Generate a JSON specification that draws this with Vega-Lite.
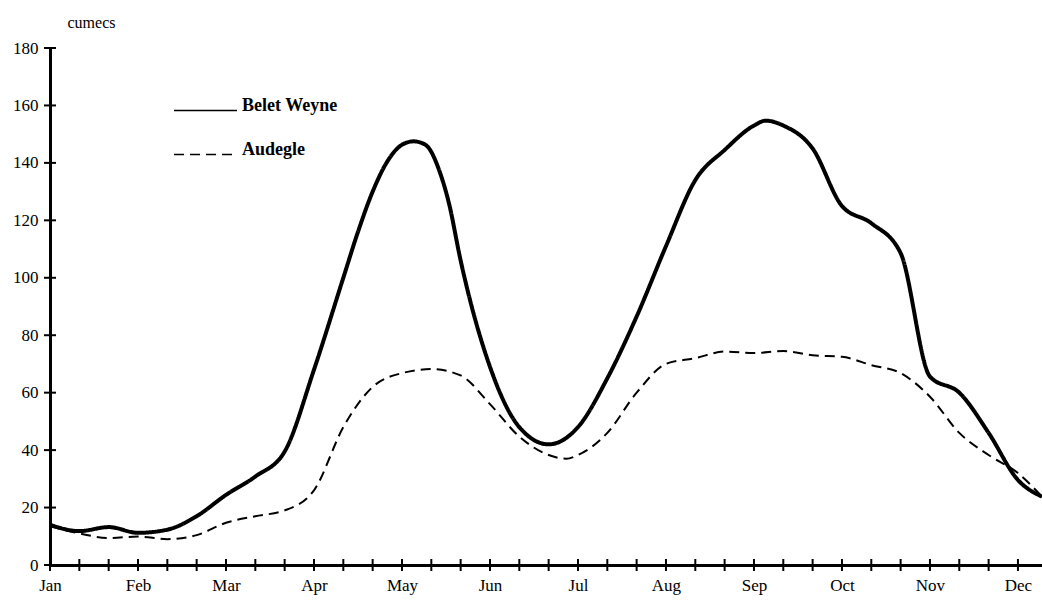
{
  "$schema": "https://vega.github.io/schema/vega-lite/v6.json",
  "width": 992,
  "height": 517,
  "autosize": {"type": "none"},
  "padding": {"left": 50, "top": 48, "right": 0, "bottom": 36},
  "background": "white",
  "config": {
    "view": {"stroke": null},
    "font": "Liberation Serif",
    "axis": {"grid": false, "ticks": false, "domainColor": "black", "domainWidth": 3, "labelColor": "black", "labelFont": "Liberation Serif", "labelFontSize": 17, "titleFont": "Liberation Serif"}
  },
  "datasets": {
    "flow": [
      {"d": 0, "station": "Belet Weyne", "q": 14},
      {"d": 1, "station": "Belet Weyne", "q": 11.8},
      {"d": 2, "station": "Belet Weyne", "q": 13.2},
      {"d": 3, "station": "Belet Weyne", "q": 11.2},
      {"d": 4, "station": "Belet Weyne", "q": 12.3},
      {"d": 5, "station": "Belet Weyne", "q": 17},
      {"d": 6, "station": "Belet Weyne", "q": 24.4},
      {"d": 7, "station": "Belet Weyne", "q": 30.8},
      {"d": 8, "station": "Belet Weyne", "q": 39.5},
      {"d": 9, "station": "Belet Weyne", "q": 68},
      {"d": 10, "station": "Belet Weyne", "q": 100},
      {"d": 10.5, "station": "Belet Weyne", "q": 116},
      {"d": 11, "station": "Belet Weyne", "q": 130},
      {"d": 11.5, "station": "Belet Weyne", "q": 140.5},
      {"d": 12, "station": "Belet Weyne", "q": 146.3},
      {"d": 12.4, "station": "Belet Weyne", "q": 147.5},
      {"d": 12.8, "station": "Belet Weyne", "q": 146.3},
      {"d": 13.3, "station": "Belet Weyne", "q": 136.5},
      {"d": 13.6, "station": "Belet Weyne", "q": 126},
      {"d": 14, "station": "Belet Weyne", "q": 106},
      {"d": 15, "station": "Belet Weyne", "q": 69},
      {"d": 16, "station": "Belet Weyne", "q": 48},
      {"d": 17, "station": "Belet Weyne", "q": 42},
      {"d": 18, "station": "Belet Weyne", "q": 48},
      {"d": 19, "station": "Belet Weyne", "q": 65},
      {"d": 20, "station": "Belet Weyne", "q": 86.5},
      {"d": 21, "station": "Belet Weyne", "q": 111},
      {"d": 22, "station": "Belet Weyne", "q": 134},
      {"d": 23, "station": "Belet Weyne", "q": 144.5},
      {"d": 24, "station": "Belet Weyne", "q": 153},
      {"d": 24.4, "station": "Belet Weyne", "q": 154.7},
      {"d": 25, "station": "Belet Weyne", "q": 153},
      {"d": 26, "station": "Belet Weyne", "q": 145},
      {"d": 27, "station": "Belet Weyne", "q": 125},
      {"d": 28, "station": "Belet Weyne", "q": 119},
      {"d": 29, "station": "Belet Weyne", "q": 108.6},
      {"d": 30, "station": "Belet Weyne", "q": 65.6},
      {"d": 31, "station": "Belet Weyne", "q": 60},
      {"d": 32, "station": "Belet Weyne", "q": 46},
      {"d": 33, "station": "Belet Weyne", "q": 29.6},
      {"d": 33.82, "station": "Belet Weyne", "q": 23.8},
      {"d": 0, "station": "Audegle", "q": 13.5},
      {"d": 1, "station": "Audegle", "q": 11},
      {"d": 2, "station": "Audegle", "q": 9.4},
      {"d": 3, "station": "Audegle", "q": 9.9},
      {"d": 4, "station": "Audegle", "q": 9},
      {"d": 5, "station": "Audegle", "q": 10.4},
      {"d": 6, "station": "Audegle", "q": 14.7},
      {"d": 7, "station": "Audegle", "q": 17},
      {"d": 8, "station": "Audegle", "q": 19},
      {"d": 9, "station": "Audegle", "q": 26},
      {"d": 10, "station": "Audegle", "q": 48},
      {"d": 11, "station": "Audegle", "q": 62},
      {"d": 12, "station": "Audegle", "q": 66.8},
      {"d": 13, "station": "Audegle", "q": 68.2},
      {"d": 14, "station": "Audegle", "q": 66},
      {"d": 15, "station": "Audegle", "q": 56},
      {"d": 16, "station": "Audegle", "q": 44.7},
      {"d": 17, "station": "Audegle", "q": 38.3},
      {"d": 17.6, "station": "Audegle", "q": 37},
      {"d": 18, "station": "Audegle", "q": 38.3},
      {"d": 19, "station": "Audegle", "q": 46},
      {"d": 20, "station": "Audegle", "q": 60},
      {"d": 21, "station": "Audegle", "q": 70},
      {"d": 22, "station": "Audegle", "q": 72},
      {"d": 23, "station": "Audegle", "q": 74.3},
      {"d": 24, "station": "Audegle", "q": 73.8},
      {"d": 25, "station": "Audegle", "q": 74.5},
      {"d": 26, "station": "Audegle", "q": 73},
      {"d": 27, "station": "Audegle", "q": 72.5},
      {"d": 28, "station": "Audegle", "q": 69.6},
      {"d": 29, "station": "Audegle", "q": 66.8},
      {"d": 30, "station": "Audegle", "q": 58.6},
      {"d": 31, "station": "Audegle", "q": 46},
      {"d": 32, "station": "Audegle", "q": 38.3},
      {"d": 33, "station": "Audegle", "q": 32},
      {"d": 33.82, "station": "Audegle", "q": 23.8}
    ],
    "xticks": [
      {"d": 0}, {"d": 1}, {"d": 2}, {"d": 3}, {"d": 4}, {"d": 5}, {"d": 6}, {"d": 7}, {"d": 8}, {"d": 9},
      {"d": 10}, {"d": 11}, {"d": 12}, {"d": 13}, {"d": 14}, {"d": 15}, {"d": 16}, {"d": 17}, {"d": 18}, {"d": 19},
      {"d": 20}, {"d": 21}, {"d": 22}, {"d": 23}, {"d": 24}, {"d": 25}, {"d": 26}, {"d": 27}, {"d": 28}, {"d": 29},
      {"d": 30}, {"d": 31}, {"d": 32}, {"d": 33}
    ],
    "yticks": [
      {"q": 0}, {"q": 20}, {"q": 40}, {"q": 60}, {"q": 80}, {"q": 100}, {"q": 120}, {"q": 140}, {"q": 160}, {"q": 180}
    ]
  },
  "layer": [
    {
      "data": {"name": "flow"},
      "transform": [{"filter": "datum.station === 'Belet Weyne'"}],
      "mark": {"type": "line", "interpolate": "monotone", "strokeWidth": 4, "color": "black", "clip": true},
      "encoding": {
        "x": {
          "field": "d", "type": "quantitative",
          "scale": {"domain": [0, 33.82], "nice": false, "zero": false},
          "axis": {
            "title": null,
            "values": [0, 3, 6, 9, 12, 15, 18, 21, 24, 27, 30, 33],
            "labelExpr": "['Jan','Feb','Mar','Apr','May','Jun','Jul','Aug','Sep','Oct','Nov','Dec'][round(datum.value/3)]",
            "labelPadding": 12,
            "labelFlush": false,
            "labelOverlap": false
          }
        },
        "y": {
          "field": "q", "type": "quantitative",
          "scale": {"domain": [0, 180], "nice": false},
          "axis": {
            "title": "cumecs",
            "values": [0, 20, 40, 60, 80, 100, 120, 140, 160, 180],
            "labelPadding": 12,
            "titleAngle": 0,
            "titleAlign": "left",
            "titleBaseline": "middle",
            "titleX": 17,
            "titleY": -26,
            "titleFontSize": 16,
            "titleFontWeight": "normal",
            "titleColor": "black"
          }
        },
        "strokeDash": {
          "field": "station", "type": "nominal",
          "scale": {"domain": ["Belet Weyne", "Audegle"], "range": [[1, 0], [10, 6]]},
          "legend": {
            "title": null,
            "orient": "none",
            "legendX": 123,
            "legendY": 51,
            "padding": 0,
            "symbolType": "M-1,0H5",
            "symbolSize": 441,
            "symbolStrokeWidth": 1.5,
            "symbolStrokeColor": "black",
            "labelFont": "Liberation Serif",
            "labelFontWeight": "bold",
            "labelFontSize": 18,
            "labelColor": "black",
            "labelBaseline": "alphabetic",
            "labelOffset": 46,
            "rowPadding": 25
          }
        }
      }
    },
    {
      "data": {"name": "flow"},
      "transform": [{"filter": "datum.station === 'Audegle'"}],
      "mark": {"type": "line", "interpolate": "monotone", "strokeWidth": 2, "color": "black", "clip": true},
      "encoding": {
        "x": {"field": "d", "type": "quantitative"},
        "y": {"field": "q", "type": "quantitative"},
        "strokeDash": {"field": "station", "type": "nominal"}
      }
    },
    {
      "data": {"name": "xticks"},
      "mark": {"type": "tick", "orient": "vertical", "size": 12, "thickness": 2, "color": "black", "opacity": 1},
      "encoding": {
        "x": {"field": "d", "type": "quantitative"},
        "y": {"datum": 0, "type": "quantitative"}
      }
    },
    {
      "data": {"name": "yticks"},
      "mark": {"type": "tick", "orient": "horizontal", "size": 12, "thickness": 2, "color": "black", "opacity": 1},
      "encoding": {
        "y": {"field": "q", "type": "quantitative"},
        "x": {"datum": 0, "type": "quantitative"}
      }
    }
  ]
}
